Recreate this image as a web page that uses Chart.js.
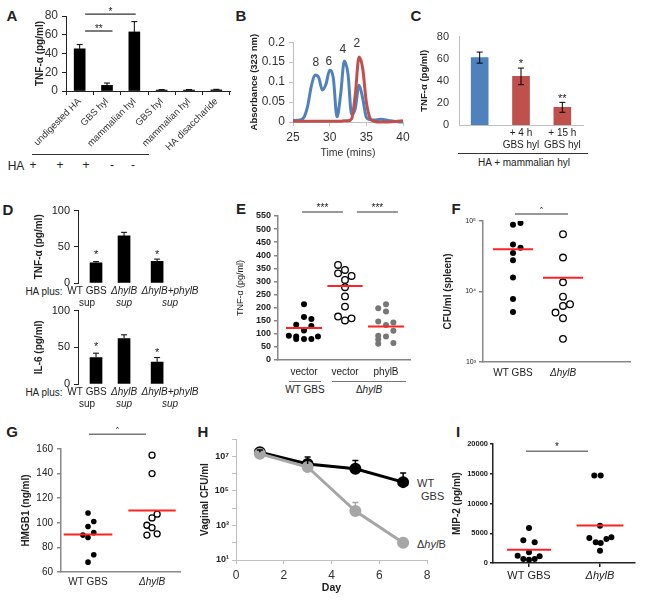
<!DOCTYPE html>
<html>
<head>
<meta charset="utf-8">
<script src="https://cdn.jsdelivr.net/npm/chart.js@4.4.1/dist/chart.umd.min.js"></script>
<style>
  body { margin: 0; background: #fff; }
  #fig { position: relative; width: 645px; height: 601px; overflow: hidden; font-family: 'Liberation Sans', Arial, sans-serif; color: #222; }
  #fig canvas { position: absolute; }
  .t { position: absolute; transform: translate(-50%, -50%); white-space: nowrap; font-size: 10px; line-height: 1; }
  .tl { position: absolute; transform: translateY(-50%); white-space: nowrap; font-size: 11px; line-height: 1; color: #333; }
  .pl { position: absolute; transform: translate(-50%, -50%); font-weight: bold; font-size: 15px; line-height: 1; }
  .ln { position: absolute; height: 0; border-top: 1.3px solid #333; }
</style>
</head>
<body>
<div id="fig">
  <div class="pl" style="left:12px;top:15px">A</div>
  <div class="pl" style="left:241px;top:15px">B</div>
  <div class="pl" style="left:416px;top:15px">C</div>
  <div class="pl" style="left:8px;top:209px">D</div>
  <div class="pl" style="left:241px;top:208px">E</div>
  <div class="pl" style="left:456px;top:208px">F</div>
  <div class="pl" style="left:12px;top:431px">G</div>
  <div class="pl" style="left:203px;top:431px">H</div>
  <div class="pl" style="left:458px;top:431px">I</div>

  <!-- A: HA row -->
  <div class="ln" style="left:32px;top:154px;width:117px"></div>
  <div class="t" style="left:16px;top:166px;font-size:12px">HA</div>
  <div class="t" style="left:33px;top:165px;font-size:12px">+</div>
  <div class="t" style="left:60px;top:165px;font-size:12px">+</div>
  <div class="t" style="left:86px;top:165px;font-size:12px">+</div>
  <div class="t" style="left:112px;top:165px;font-size:12px">-</div>
  <div class="t" style="left:133px;top:165px;font-size:12px">-</div>

  <!-- C: group -->
  <div class="ln" style="left:458px;top:153px;width:130px"></div>
  <div class="t" style="left:524px;top:163px">HA + mammalian hyl</div>

  <!-- D: row headers -->
  <div class="t" style="left:44px;top:292px">HA plus:</div>
  <div class="t" style="left:44px;top:393px">HA plus:</div>

  <!-- E: groups -->
  <div class="ln" style="left:289px;top:381px;width:32px;border-color:#777"></div>
  <div class="t" style="left:305px;top:390px">WT GBS</div>
  <div class="ln" style="left:332px;top:381px;width:74px;border-color:#777"></div>
  <div class="t" style="left:369px;top:390px">Δ<i>hylB</i></div>

  <!-- H: series names -->
  <div class="tl" style="left:417px;top:483px">WT</div>
  <div class="tl" style="left:421px;top:496px">GBS</div>
  <div class="tl" style="left:417px;top:544px">Δ<i>hyl</i>B</div>
</div>
<script>
// A: TNF-a after hyaluronidase digests
const aLabels = ['undigested HA', 'GBS hyl', 'mammalian hyl', 'GBS hyl', 'mammalian hyl', 'HA disaccharide'];
const aTnf = [45, 6, 63, 1, 1, 1.2];
const aErr = [4.5, 2.5, 11, 0.5, 0.5, 0.6];

// B: chromatogram
const bTime = [25, 26, 26.5, 27, 27.5, 28, 28.5, 29, 29.5, 30, 30.5, 31, 31.5, 32, 32.5, 33, 33.5, 34, 34.5, 35, 35.5, 36, 37, 38, 39, 40];
const bBlue = [0.004, 0.005, 0.012, 0.04, 0.09, 0.118, 0.112, 0.08, 0.095, 0.13, 0.11, 0.013, 0.07, 0.153, 0.12, 0.018, 0.035, 0.092, 0.06, 0.012, 0.006, 0.005, 0.007, 0.004, 0.001, 0];
const bRed = [0.002, 0.002, 0.002, 0.002, 0.002, 0.002, 0.002, 0.002, 0.002, 0.002, 0.002, 0.002, 0.002, 0.003, 0.003, 0.008, 0.07, 0.163, 0.135, 0.05, 0.01, 0.002, 0, 0, 0.001, 0.003];
const bPeaks = ['8', '6', '4', '2'];
const bPeakTime = [28.1, 29.9, 31.8, 33.7];
const bPeakAbs = [0.149, 0.151, 0.18, 0.196];

// C
const cLabels = ['', ['+ 4 h', 'GBS hyl'], ['+ 15 h', 'GBS hyl']];
const cTnf = [61, 44, 16];
const cErr = [5, 7.5, 4.5];
const cStars = ['', '*', '**'];
const cStarY = [null, 55, 24];

// D (bars and their labels sit at slightly different x)
const dLabels = [['WT GBS', 'sup'], ['ΔhylB', 'sup'], ['ΔhylB+phylB', 'sup']];
const dBarX = [1, 2, 3.18];
const dLabelX = [0.68, 2, 3.64];
const dTnf = [28, 65, 30];
const dTnfErr = [1.5, 5, 3];
const dTnfStar = [39, null, 39];
const dIl6 = [36, 62, 30];
const dIl6Err = [6, 5, 6];
const dIl6Star = [50, null, 42];

// E
const eTicks = ['vector', 'vector', 'phylB'];
const eWt = [213, 164, 157, 135, 130, 113, 93, 90, 90, 80, 80, 80];
const eWtJit = [0, 0, 0.18, -0.19, 0.18, 0, -0.37, -0.19, 0.34, -0.19, 0, 0.18];
const eKo = [363, 344, 331, 321, 306, 278, 243, 204, 166, 159, 151];
const eKoJit = [-0.17, 0, -0.17, 0.16, 0, 0, 0, 0, -0.17, 0.16, 0];
const eComp = [213, 198, 185, 147, 143, 134, 112, 93, 90, 78, 62, 65];
const eCompJit = [0, -0.19, 0, -0.19, 0.18, 0, 0.18, -0.19, 0, -0.19, -0.19, 0.18];
const eMedian = [122, 283, 128];

// F
const fTicks = ['WT GBS', 'ΔhylB'];
const fWt = [88800, 93700, 46400, 41600, 35300, 27800, 15800, 7830, 5140];
const fWtJit = [0, 0.15, 0, 0.15, 0, 0, 0, 0, 0];
const fKo = [64900, 30300, 13500, 8450, 6240, 6590, 5030, 4180, 2130];
const fKoJit = [0, 0, 0, 0, 0, 0.14, -0.15, 0, 0];
const fMedian = [39800, 15700];

// G
const gTicks = ['WT GBS', 'ΔhylB'];
const gWt = [108, 97, 101, 92, 90, 88, 74, 68];
const gWtJit = [0, 0, 0.09, 0.09, -0.08, 0, 0.09, 0];
const gKo = [155, 140, 104, 107, 98, 96, 90, 91];
const gKoJit = [0, 0, 0, 0.08, -0.08, 0, -0.08, 0.08];
const gMedian = [90.5, 110];

// H
const hDays = [1, 3, 5, 7];
const hWt = [1.7e7, 3.6e6, 1.9e6, 3.2e5];
const hWtTop = [2.3e7, 9.1e6, 5.8e6, 1.07e6];
const hKo = [1.4e7, 2.4e6, 6.8e3, 98];
const hKoTop = [null, null, 2.1e4, null];

// I
const iTicks = ['WT GBS', 'ΔhylB'];
const iWt = [5880, 3810, 3470, 1790, 1230, 1120, 670, 560, 670];
const iWtJit = [0, -0.08, 0.08, 0, -0.16, 0.15, -0.08, 0, 0.08];
const iKo = [14700, 14700, 6270, 4200, 3470, 3360, 4030, 4310, 2070];
const iKoJit = [-0.08, 0.01, 0, -0.15, -0.06, 0.01, 0.09, 0.16, 0];
const iMedian = [2240, 6300];

const FONT = "'Liberation Sans', Arial, sans-serif";
Chart.defaults.font.family = FONT;
Chart.defaults.color = '#222';

// error bars, significance brackets and small text marks, all in data units
const marks = {
  id: 'marks',
  afterDatasetsDraw(chart, args, opts) {
    const { ctx } = chart;
    const x = chart.scales.x, y = chart.scales.y;
    ctx.save();
    chart.data.datasets.forEach((ds, i) => {
      if (!ds.errHi) return;
      const cap = ds.errCap || 3;
      ctx.strokeStyle = ds.errColor || '#000';
      ctx.lineWidth = ds.errWidth || 1;
      chart.getDatasetMeta(i).data.forEach((el, j) => {
        const hi = ds.errHi[j];
        if (hi == null) return;
        const top = y.getPixelForValue(hi);
        const bot = ds.errLo ? y.getPixelForValue(ds.errLo[j]) : el.y;
        ctx.beginPath();
        ctx.moveTo(el.x, bot); ctx.lineTo(el.x, top);
        ctx.moveTo(el.x - cap, top); ctx.lineTo(el.x + cap, top);
        if (ds.errLo) { ctx.moveTo(el.x - cap, bot); ctx.lineTo(el.x + cap, bot); }
        ctx.stroke();
      });
    });
    ctx.fillStyle = '#222';
    ctx.textAlign = 'center';
    (opts.brackets || []).forEach(b => {
      const py = y.getPixelForValue(b.y);
      const x1 = x.getPixelForValue(b.x1), x2 = x.getPixelForValue(b.x2);
      ctx.strokeStyle = opts.lineColor || '#777';
      ctx.lineWidth = opts.lineWidth || 1.5;
      ctx.beginPath(); ctx.moveTo(x1, py); ctx.lineTo(x2, py); ctx.stroke();
      ctx.font = '10px ' + FONT;
      ctx.textBaseline = 'alphabetic';
      ctx.fillText(b.text, (x1 + x2) / 2, py + (opts.starShift || 0));
    });
    ctx.textBaseline = 'middle';
    ctx.font = opts.noteFont || ('11px ' + FONT);
    ctx.fillStyle = opts.noteColor || '#222';
    (opts.notes || []).forEach(n => ctx.fillText(n.text, x.getPixelForValue(n.x), y.getPixelForValue(n.y)));
    ctx.restore();
  }
};
Chart.register(marks);

const sup = { 1: '¹', 2: '²', 3: '³', 4: '⁴', 5: '⁵', 6: '⁶', 7: '⁷', 8: '⁸' };
const pow = v => '10' + sup[Math.round(Math.log10(v))];
const pts = (ys, jit, c) => ys.map((y, i) => ({ x: c + jit[i], y }));
const med = (m, c, w) => ({ data: [{ x: c - w, y: m }, { x: c + w, y: m }], showLine: true, borderColor: '#f22', borderWidth: 2, pointRadius: 0 });
const dots = { pointRadius: 3, pointBackgroundColor: '#000', pointBorderColor: '#000', pointBorderWidth: 0 };
const rings = { pointRadius: 3.3, pointBackgroundColor: '#fff', pointBorderColor: '#000', pointBorderWidth: 1.3 };

// box = chart area [left, top, right, bottom] plus margins for y axis, top, right, x axis
function draw(box, config) {
  const [L, T, R, B, ml, mt, mr, mb] = box;
  const cv = document.createElement('canvas');
  cv.width = R - L + ml + mr;
  cv.height = B - T + mt + mb;
  cv.style.left = (L - ml) + 'px';
  cv.style.top = (T - mt) + 'px';
  document.getElementById('fig').appendChild(cv);
  const o = config.options;
  o.responsive = false;
  o.animation = false;
  o.layout = { padding: { top: mt, right: mr, left: 0, bottom: 0 } };
  o.plugins = Object.assign({ legend: { display: false }, tooltip: { enabled: false } }, o.plugins);
  o.scales.x.afterFit = s => { s.height = mb; };
  o.scales.y.afterFit = s => { s.width = ml; };
  return new Chart(cv, config);
}

function yAx(o) {
  const w = o.width || 1;
  return {
    type: o.type || 'linear', min: o.min, max: o.max,
    border: { color: o.color, width: w },
    grid: o.tick === 0 ? { display: false, drawTicks: false } : { drawOnChartArea: false, color: o.color, tickLength: o.tick || 4, lineWidth: w },
    ticks: { stepSize: o.step, font: o.font, color: o.tc || '#222', padding: o.pad, callback: o.cb, autoSkip: false },
    title: { display: true, text: o.title, font: o.tfont, color: '#222', padding: { top: o.tpad, bottom: 0 } },
    afterBuildTicks: o.ticksAt ? s => { s.ticks = o.ticksAt.map(value => ({ value })); } : undefined
  };
}

// linear x axis labelled like a category axis, labels at positions o.at (default 1, 2, ...)
function xCat(o) {
  const grid = o.tick ? { drawOnChartArea: false, color: o.color, tickLength: o.tick, lineWidth: o.width || 1, offset: false } : { display: false, drawTicks: false, offset: false };
  const at = o.at || o.labels.map((l, i) => i + 1);
  return {
    type: 'linear', min: o.min, max: o.max, offset: false,
    border: { display: o.color !== null, color: o.color, width: o.width || 1 },
    grid,
    afterBuildTicks: s => { s.ticks = at.map(value => ({ value })); },
    ticks: { padding: o.pad, font: o.font, color: '#222', autoSkip: false, maxRotation: 0, callback: (v, i) => o.labels[i] }
  };
}

// A
draw([66, 16, 230, 91, 66, 12, 6, 70], {
  type: 'bar',
  data: { labels: aLabels, datasets: [{ data: aTnf, backgroundColor: '#000', barThickness: 11, errHi: aTnf.map((v, i) => v + aErr[i]) }] },
  options: {
    plugins: { marks: { brackets: [{ x1: 0.2, x2: 1.2, y: 64, text: '**' }, { x1: 0.2, x2: 2.05, y: 82, text: '*' }], lineColor: '#333', lineWidth: 1.3, starShift: 1 } },
    scales: {
      x: { border: { color: '#222' }, grid: { drawOnChartArea: false, color: '#222', tickLength: 4 }, ticks: { minRotation: 45, maxRotation: 45, autoSkip: false, padding: 1, font: { size: 9.5 }, color: '#333' } },
      y: yAx({ min: 0, max: 80, step: 20, color: '#222', font: { size: 12 }, tc: '#333', pad: 4, title: 'TNF-α (pg/ml)', tfont: { size: 10, weight: 'bold' }, tpad: 34 })
    }
  }
});

// B
draw([293, 41, 403, 122, 50, 10, 12, 40], {
  type: 'line',
  data: {
    datasets: [
      { data: bTime.map((t, i) => ({ x: t, y: bRed[i] })), borderColor: '#c0504d', borderWidth: 3, pointRadius: 0, cubicInterpolationMode: 'monotone', clip: false },
      { data: bTime.map((t, i) => ({ x: t, y: bBlue[i] })), borderColor: '#4f81bd', borderWidth: 3, pointRadius: 0, cubicInterpolationMode: 'monotone', clip: false }
    ]
  },
  options: {
    plugins: { marks: { notes: bPeaks.map((s, i) => ({ x: bPeakTime[i], y: bPeakAbs[i], text: s })), noteFont: '12px ' + FONT, noteColor: '#333' } },
    scales: {
      x: {
        type: 'linear', min: 25, max: 40,
        border: { color: '#bfbfbf' }, grid: { drawOnChartArea: false, color: '#bfbfbf', tickLength: 4 },
        ticks: { stepSize: 5, padding: 4, font: { size: 12 }, color: '#333' },
        title: { display: true, text: 'Time (mins)', font: { size: 10.5 }, color: '#333', padding: { top: 0, bottom: 3 } }
      },
      y: yAx({ min: 0, max: 0.2, step: 0.05, color: '#bfbfbf', font: { size: 12 }, tc: '#333', pad: 4, title: 'Absorbance (323 nm)', tfont: { size: 9.5, weight: 'bold' }, tpad: 6 })
    }
  }
});

// C
draw([459, 30, 583, 125, 44, 10, 8, 32], {
  type: 'bar',
  data: {
    labels: cLabels,
    datasets: [{
      data: cTnf, backgroundColor: ['#4f81bd', '#c0504d', '#c0504d'], barThickness: 17,
      errHi: cTnf.map((v, i) => v + cErr[i]), errLo: cTnf.map((v, i) => v - cErr[i])
    }]
  },
  options: {
    plugins: { marks: { notes: cStars.map((s, i) => ({ x: i, y: cStarY[i], text: s })).filter(n => n.text) } },
    scales: {
      x: { border: { color: '#bfbfbf' }, grid: { display: false, drawTicks: false }, ticks: { padding: 2, font: { size: 10 }, autoSkip: false, maxRotation: 0 } },
      y: yAx({ min: 0, max: 80, step: 20, color: '#bfbfbf', tick: 0, font: { size: 11 }, tc: '#333', pad: 10, title: 'TNF-α (pg/ml)', tfont: { size: 9.5, weight: 'bold' }, tpad: 4 })
    }
  }
});

// D
function dChart(box, vals, errs, stars, title) {
  return draw(box, {
    type: 'bar',
    data: { datasets: [{ data: vals.map((v, i) => ({ x: dBarX[i], y: v })), backgroundColor: '#000', barThickness: 12, errHi: vals.map((v, i) => v + errs[i]) }] },
    options: {
      plugins: { marks: { notes: stars.map((y, i) => ({ x: dBarX[i], y, text: '*' })).filter(n => n.y != null) } },
      scales: {
        x: xCat({ min: 0.357, max: 4.71, labels: dLabels, at: dLabelX, color: null, pad: 2, font: c => ({ size: 10, style: c.index ? 'italic' : 'normal' }) }),
        y: yAx({ min: 0, max: 100, step: 50, color: '#222', font: { size: 11 }, pad: 4, title, tfont: { size: 10, weight: 'bold' }, tpad: 33 })
      }
    }
  });
}
dChart([78, 210, 200, 283, 78, 10, 10, 30], dTnf, dTnfErr, dTnfStar, 'TNF-α (pg/ml)');
dChart([78, 310, 200, 384, 78, 10, 10, 30], dIl6, dIl6Err, dIl6Star, 'IL-6 (pg/ml)');

// E
draw([278, 216, 410, 360, 48, 14, 8, 22], {
  type: 'scatter',
  data: {
    datasets: [
      med(eMedian[0], 1, 0.44), med(eMedian[1], 2, 0.43), med(eMedian[2], 3, 0.44),
      Object.assign({ data: pts(eWt, eWtJit, 1) }, dots),
      Object.assign({ data: pts(eKo, eKoJit, 2) }, rings),
      Object.assign({ data: pts(eComp, eCompJit, 3) }, dots, { pointBackgroundColor: '#777', pointBorderColor: '#777' })
    ]
  },
  options: {
    plugins: { marks: { brackets: [{ x1: 0.95, x2: 1.95, y: 565, text: '***' }, { x1: 2.29, x2: 3.29, y: 565, text: '***' }], starShift: -1 } },
    scales: {
      x: xCat({ min: 0.366, max: 3.585, labels: eTicks, color: '#888', width: 1.5, pad: 6, font: { size: 10 } }),
      y: yAx({ min: 0, max: 550, step: 50, color: '#888', width: 1.5, font: { size: 9, weight: 'bold' }, pad: 3, title: 'TNF-α (pg/ml)', tfont: { size: 9 }, tpad: 5 })
    }
  }
});

// F
draw([483, 221, 630, 362, 45, 14, 10, 22], {
  type: 'scatter',
  data: {
    datasets: [
      med(fMedian[0], 1, 0.4), med(fMedian[1], 2, 0.4),
      Object.assign({ data: pts(fWt, fWtJit, 1) }, dots),
      Object.assign({ data: pts(fKo, fKoJit, 2) }, rings)
    ]
  },
  options: {
    plugins: { marks: { brackets: [{ x1: 1.04, x2: 2.1, y: 126000, text: '*' }], starShift: -1 } },
    scales: {
      x: xCat({ min: 0.4, max: 3.34, labels: fTicks, color: '#888', width: 1.5, pad: 5, font: c => ({ size: 10, style: c.index ? 'italic' : 'normal' }) }),
      y: yAx({ type: 'logarithmic', min: 1000, max: 100000, ticksAt: [1e3, 1e4, 1e5], cb: pow, color: '#888', width: 1.5, font: { size: 7 }, pad: 3, title: 'CFU/ml (spleen)', tfont: { size: 10, weight: 'bold' }, tpad: 4 })
    }
  }
});

// G
draw([61, 449, 180, 572, 61, 22, 8, 20], {
  type: 'scatter',
  data: {
    datasets: [
      med(gMedian[0], 1, 0.38), med(gMedian[1], 2, 0.37),
      Object.assign({ data: pts(gWt, gWtJit, 1) }, dots, { pointRadius: 2.8 }),
      Object.assign({ data: pts(gKo, gKoJit, 2) }, rings, { pointRadius: 3 })
    ]
  },
  options: {
    plugins: { marks: { brackets: [{ x1: 1.016, x2: 1.906, y: 172, text: '*' }], starShift: -1 } },
    scales: {
      x: xCat({ min: 0.578, max: 2.437, labels: gTicks, color: '#888', width: 1.5, pad: 4, font: c => ({ size: 10, style: c.index ? 'italic' : 'normal' }) }),
      y: yAx({ min: 60, max: 160, step: 20, color: '#888', width: 1.5, font: { size: 10 }, pad: 4, title: 'HMGB1 (ng/ml)', tfont: { size: 10, weight: 'bold' }, tpad: 20 })
    }
  }
});

// H
draw([236, 439, 427, 560, 41, 10, 8, 36], {
  type: 'line',
  data: {
    datasets: [
      { data: hDays.map((d, i) => ({ x: d, y: hKo[i] })), borderColor: '#a6a6a6', borderWidth: 3, pointRadius: 4.5, pointBackgroundColor: '#a6a6a6', pointBorderColor: '#a6a6a6', errHi: hKoTop, errColor: '#a6a6a6', errWidth: 1.5 },
      { data: hDays.map((d, i) => ({ x: d, y: hWt[i] })), borderColor: '#000', borderWidth: 3, pointRadius: 4.5, pointBackgroundColor: '#000', pointBorderColor: '#000', errHi: hWtTop, errColor: '#000', errWidth: 1.5 }
    ]
  },
  options: {
    scales: {
      x: {
        type: 'linear', min: 0, max: 8,
        border: { color: '#bfbfbf' }, grid: { drawOnChartArea: false, color: '#bfbfbf', tickLength: 4 },
        ticks: { stepSize: 2, padding: 4, font: { size: 12 }, color: '#333' },
        title: { display: true, text: 'Day', font: { size: 10.5, weight: 'bold' }, padding: { top: 0, bottom: 2 } }
      },
      y: yAx({ type: 'logarithmic', min: 10, max: 1e8, ticksAt: [10, 100, 1e3, 1e4, 1e5, 1e6, 1e7, 1e8], cb: v => Math.round(Math.log10(v)) % 2 ? pow(v) : '', color: '#bfbfbf', font: { size: 9, weight: 'bold' }, pad: 3, title: 'Vaginal CFU/ml', tfont: { size: 10, weight: 'bold' }, tpad: 4 })
    }
  }
});

// I
draw([493, 444, 635, 563, 46, 10, 6, 22], {
  type: 'scatter',
  data: {
    datasets: [
      med(iMedian[0], 1, 0.31), med(iMedian[1], 2, 0.33),
      Object.assign({ data: pts(iWt, iWtJit, 1) }, dots),
      Object.assign({ data: pts(iKo, iKoJit, 2) }, dots)
    ]
  },
  options: {
    plugins: { marks: { brackets: [{ x1: 0.958, x2: 1.83, y: 18800, text: '*' }], starShift: -1 } },
    scales: {
      x: xCat({ min: 0.493, max: 2.493, labels: iTicks, color: '#222', width: 1.5, tick: 4, pad: 2, font: c => ({ size: 11, style: c.index ? 'italic' : 'normal' }) }),
      y: yAx({ min: 0, max: 20000, step: 5000, cb: v => String(v), color: '#222', width: 1.5, tick: 3, font: { size: 7.5, weight: 'bold' }, pad: 2, title: 'MIP-2 (pg/ml)', tfont: { size: 10, weight: 'bold' }, tpad: 4 })
    }
  }
});
</script>
</body>
</html>
